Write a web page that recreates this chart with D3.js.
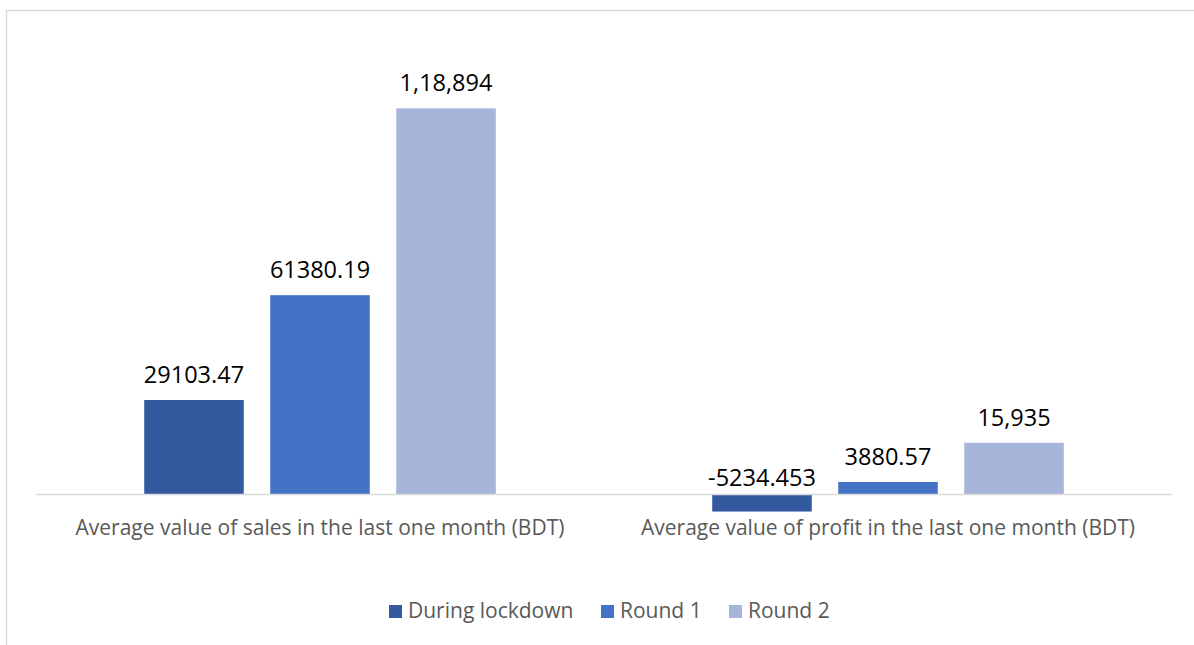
<!DOCTYPE html>
<html>
<head>
<meta charset="utf-8">
<script src="https://cdn.jsdelivr.net/npm/d3@7"></script>
<style>
  html, body { margin: 0; padding: 0; background: #fff; }
  svg { display: block; }
</style>
</head>
<body>
<svg id="chart" width="1194" height="645"></svg>
<script>
// Categories, series and values
const categories = [
  "Average value of sales in the last one month (BDT)",
  "Average value of profit in the last one month (BDT)"
];
const seriesNames = ["During lockdown", "Round 1", "Round 2"];
const duringLockdown = [29103.47, -5234.453];
const round1 = [61380.19, 3880.57];
const round2 = [118894, 15935];
const valueLabels = [
  ["29103.47", "-5234.453"],
  ["61380.19", "3880.57"],
  ["1,18,894", "15,935"]
];
const seriesColors = ["#335A9F", "#4472C4", "#A8B5DA"];

const seriesValues = [duringLockdown, round1, round2];

const svg = d3.select("#chart");
const W = 1194, H = 645;
const font = "'Open Sans', 'Liberation Sans', sans-serif";

// Chart area border (top and left edges visible)
svg.append("path")
  .attr("d", `M6.5,${H} V10.5 H${W}`)
  .attr("fill", "none")
  .attr("stroke", "#d9d9d9")
  .attr("stroke-width", 1.5);

// Plot area
const plot = { left: 36, right: 1172, top: 39.8, bottom: 559.5 };

const y = d3.scaleLinear()
  .domain([-20000, 140000])
  .range([plot.bottom, plot.top]);

const x0 = d3.scaleBand()
  .domain(categories)
  .range([plot.left, plot.right])
  .paddingInner(0.381)
  .paddingOuter(0.1905);

const x1 = d3.scaleBand()
  .domain(seriesNames)
  .range([0, x0.bandwidth()])
  .paddingInner(0.21)
  .paddingOuter(0);

// Bars
const barData = [];
seriesNames.forEach((s, si) => {
  categories.forEach((c, ci) => {
    barData.push({ s, si, c, ci, v: seriesValues[si][ci], label: valueLabels[si][ci] });
  });
});

svg.append("g").selectAll("rect")
  .data(barData)
  .join("rect")
  .attr("x", d => x0(d.c) + x1(d.s))
  .attr("width", x1.bandwidth())
  .attr("y", d => Math.min(y(d.v), y(0)))
  .attr("height", d => Math.abs(y(d.v) - y(0)))
  .attr("fill", d => seriesColors[d.si]);

// Zero baseline
svg.append("line")
  .attr("x1", plot.left).attr("x2", plot.right)
  .attr("y1", y(0)).attr("y2", y(0))
  .attr("stroke", "#d9d9d9")
  .attr("stroke-width", 1.5);

// Value labels
svg.append("g").selectAll("text")
  .data(barData)
  .join("text")
  .attr("x", d => x0(d.c) + x1(d.s) + x1.bandwidth() / 2)
  .attr("y", d => d.v >= 0 ? y(d.v) - 17 : y(0) - 8.5)
  .attr("text-anchor", "middle")
  .attr("font-family", font)
  .attr("font-size", 23.5)
  .attr("fill", "#000")
  .text(d => d.label);

// Category axis labels
svg.append("g").selectAll("text")
  .data(categories)
  .join("text")
  .attr("x", d => x0(d) + x0.bandwidth() / 2)
  .attr("y", 535)
  .attr("text-anchor", "middle")
  .attr("font-family", font)
  .attr("font-size", 21)
  .attr("fill", "#595959")
  .text(d => d);

// Legend
const legendX = [389, 601, 729];
const legend = svg.append("g");
seriesNames.forEach((s, i) => {
  legend.append("rect")
    .attr("x", legendX[i]).attr("y", 605)
    .attr("width", 13).attr("height", 13)
    .attr("fill", seriesColors[i]);
  legend.append("text")
    .attr("x", legendX[i] + 19).attr("y", 618)
    .attr("font-family", font)
    .attr("font-size", 21)
    .attr("fill", "#595959")
    .text(s);
});
</script>
</body>
</html>
